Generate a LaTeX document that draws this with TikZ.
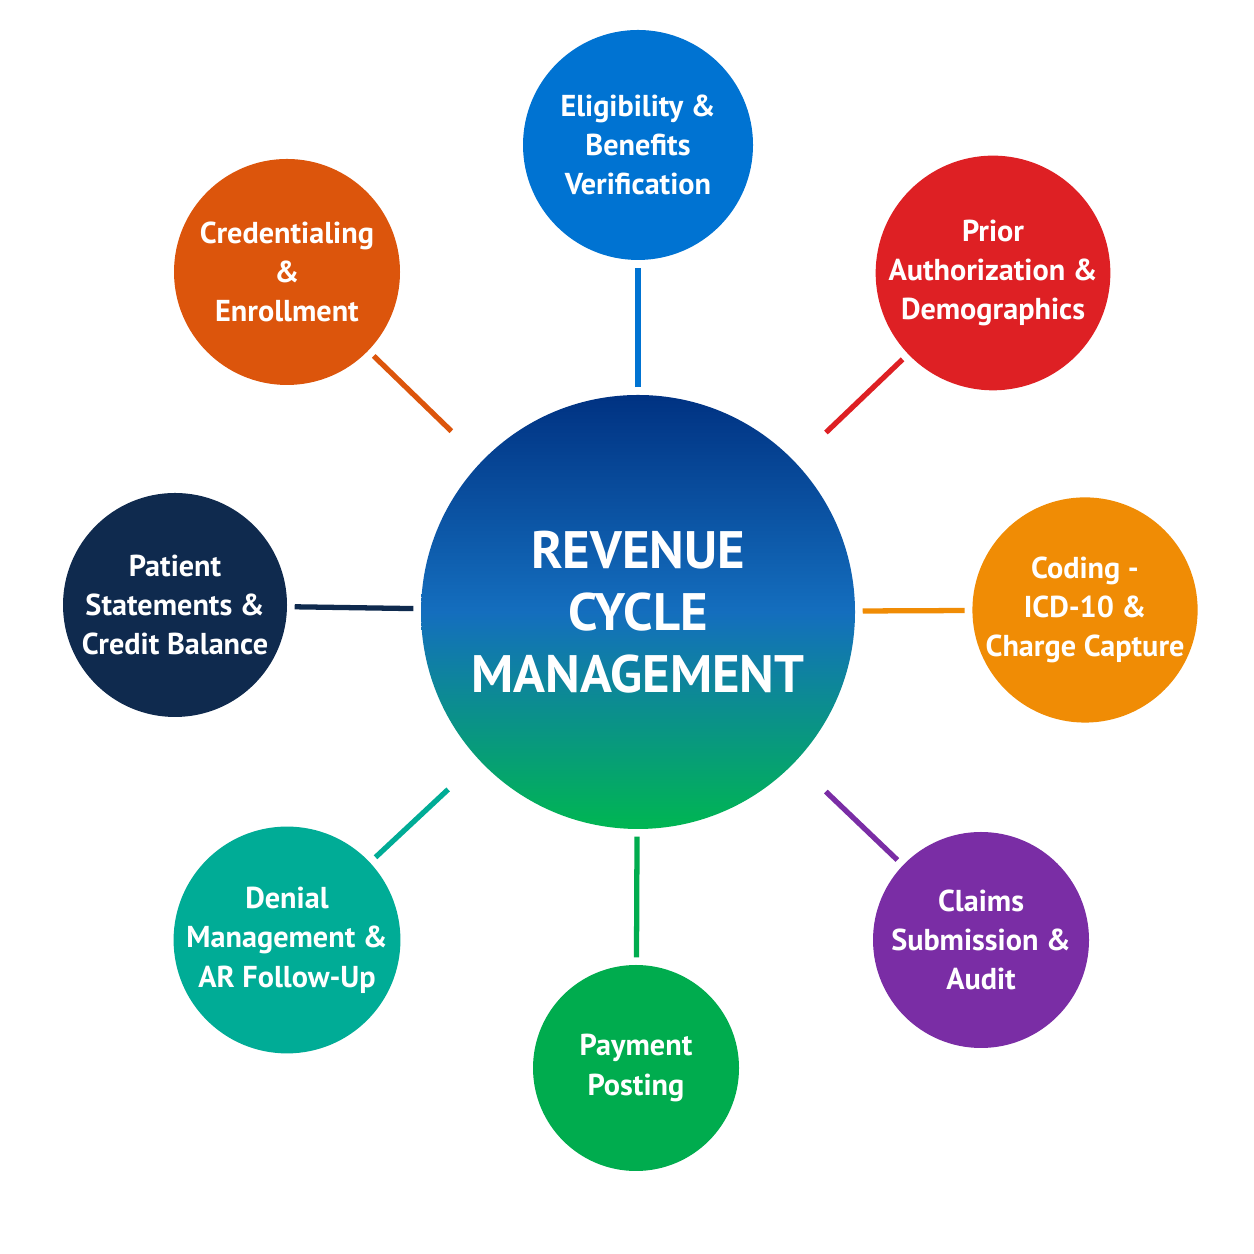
\documentclass[tikz,border=0pt]{standalone}
\usepackage{fontspec}
\setmainfont{PT Sans}
\usetikzlibrary{positioning}
\definecolor{cBlue}{RGB}{0,115,210}
\definecolor{cRed}{RGB}{222,32,36}
\definecolor{cOrange}{RGB}{240,140,5}
\definecolor{cPurple}{RGB}{122,45,165}
\definecolor{cGreen}{RGB}{0,172,78}
\definecolor{cTeal}{RGB}{0,172,150}
\definecolor{cNavy}{RGB}{15,42,78}
\definecolor{cRust}{RGB}{220,85,12}
\definecolor{cTop}{RGB}{0,50,130}
\definecolor{cMid}{RGB}{20,110,190}
\definecolor{cBot}{RGB}{0,182,82}
\tikzset{
  sat/.style={circle,fill=#1,text=white,font=\bfseries\fontsize{8.6}{11.2}\selectfont,
    align=center,inner sep=0pt},
  link/.style={draw=#1,line width=1.5pt,shorten <=2pt,shorten >=2pt},
}
\begin{document}
\begin{tikzpicture}
  \useasboundingbox (0,0) rectangle (12.54,12.54);
  \fill[white] (0,0) rectangle (12.54,12.54);
  % centre
  \shade[top color=cTop,bottom color=cBot,middle color=cMid,shading angle=0]
    (6.38,6.42) circle (2.17);
  \node[circle,minimum size=4.34cm,inner sep=0pt,text=white,align=center,
    font=\bfseries\fontsize{15}{17.6}\selectfont] (rcm) at (6.38,6.42)
    {REVENUE\\CYCLE\\MANAGEMENT};
  % satellites
  \node[sat=cBlue,minimum size=2.30cm] (elig) at (6.38,11.09) {Eligibility \&\\Benefits\\Verification};
  \node[sat=cRed,minimum size=2.26cm] (prior) at (9.93,9.81) {Prior\\Authorization \&\\Demographics};
  \node[sat=cOrange,minimum size=2.16cm] (coding) at (10.85,6.44) {Coding -\\ICD-10 \&\\Charge Capture};
  \node[sat=cPurple,minimum size=2.16cm] (claims) at (9.81,3.14) {Claims\\Submission \&\\Audit};
  \node[sat=cGreen,minimum size=2.06cm] (payment) at (6.36,1.86) {Payment\\Posting};
  \node[sat=cTeal,minimum size=2.16cm] (denial) at (2.87,3.14) {Denial\\Management \&\\AR Follow-Up};
  \node[sat=cNavy,minimum size=2.24cm] (patient) at (1.75,6.49) {Patient\\Statements \&\\Credit Balance};
  \node[sat=cRust,minimum size=2.26cm] (cred) at (2.87,9.82) {Credentialing\\\&\\Enrollment};
  % connectors
  \draw[link=cBlue] (rcm) -- (elig);
  \draw[link=cRed,shorten <=12pt] (rcm) -- (prior);
  \draw[link=cOrange] (rcm) -- (coding);
  \draw[link=cPurple,shorten <=12pt] (rcm) -- (claims);
  \draw[link=cGreen] (rcm) -- (payment);
  \draw[link=cTeal,shorten <=12pt] (rcm) -- (denial);
  \draw[link=cNavy] (rcm) -- (patient);
  \draw[link=cRust,shorten <=12pt] (rcm) -- (cred);
\end{tikzpicture}
\end{document}
